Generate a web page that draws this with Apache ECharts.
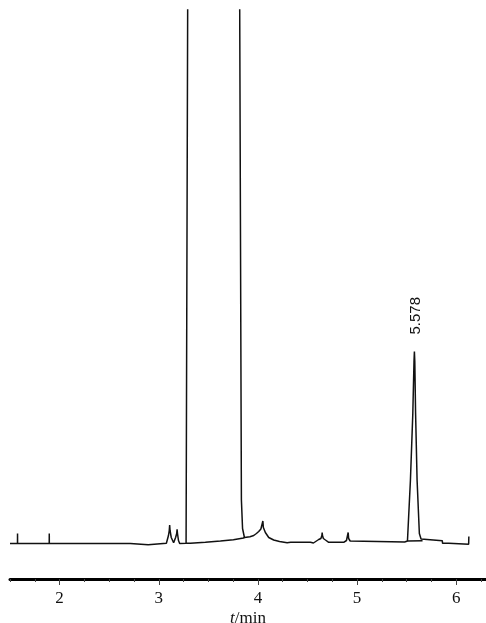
<!DOCTYPE html>
<html><head><meta charset="utf-8">
<script src="https://cdn.jsdelivr.net/npm/echarts@6/dist/echarts.min.js"></script>
<style>html,body{margin:0;padding:0;background:#fff}#c{width:486px;height:623px}</style>
</head><body><div id="c"></div>
<script>
// Chromatogram trace (time in min, signal in arbitrary units)
const mainTime = [1.50,1.5755,1.576,1.5765,1.8955,1.896,1.8965,2.713,2.716,2.893,2.896,
  3.077,3.098,3.106,3.110,3.114,3.126,3.150,3.170,3.181,3.185,3.189,3.199,3.211,
  3.2755,3.2916,3.30,3.80,3.8164,3.8335,3.845,3.864,
  3.92,3.958,3.985,4.008,4.030,4.045,4.050,4.055,4.075,4.109,4.159,4.218,4.295,4.33,
  4.53,4.537,4.56,4.58,4.613,4.635,4.645,4.648,4.651,4.66,4.681,4.714,
  4.865,4.893,4.905,4.910,4.915,4.93,4.945,
  5.48,5.508,5.538,5.562,5.574,5.578,5.582,5.59,5.605,5.628,5.645,5.66,
  5.859,5.862,5.925,5.93,6.125,6.127];
const mainSignal = [0,0,10,0,0,10,0,0,-1.2,-1.2,0,
  0.3,8,13,18.5,13,6,0.8,6,10,14.2,10,3,0,
  0.3,533.5,1500,1500,533.5,43.5,15,6,
  6.8,8,10,12,14.5,16,22.5,16,11,6,3.5,2,0.8,1.2,
  1.2,-0.5,0.5,1.8,4,5,8,11,8,5,3.5,1.2,
  1.2,3,5,11,5,2.5,1.2,
  1.5,2.5,63.5,130,182,192,182,130,63.5,10,4.5,2.8,
  2.8,0.2,0.2,-0.8,-0.8,7];
// Drop baselines drawn under the solvent peak and the 5.578 peak
const base1Time = [3.2755,3.319,3.325,3.470,3.476,3.622,3.628,3.753,3.76,3.854,3.864];
const base1Signal = [0.3,0.3,1.2,1.2,2.5,2.5,3.8,3.8,5,5.5,6];
const base2Time = [5.508,5.66];
const base2Signal = [2.5,2.8];
// Axis
const majorTicks = [2,3,4,5,6];
const peakLabelTime = 5.578;
const peakLabelSignal = 192;
const peakLabelText = '5.578';

const font = '"Liberation Serif","Times New Roman",serif';
const sans = '"Liberation Sans",Arial,sans-serif';
const zip = (a,b)=>a.map((t,i)=>[t,b[i]]);
const lineStyle = {color:'#111', width:1.5};
const chart = echarts.init(document.getElementById('c'), null, {renderer:'canvas'});
chart.setOption({
  animation:false,
  backgroundColor:'#fff',
  grid:{left:10, right:0, top:10, bottom:44, outerBoundsMode:'none', containLabel:false},
  xAxis:[{
    type:'value', min:1.5, max:6.3, interval:0.25,
    axisLine:{show:true, onZero:false, lineStyle:{color:'#000', width:3}},
    axisTick:{show:true, length:3, lineStyle:{color:'#444', width:1}},
    axisLabel:{show:false}, splitLine:{show:false}
  },{
    type:'value', min:1.5, max:6.3, position:'bottom',
    axisLine:{show:false, onZero:false},
    axisTick:{show:true, length:6, customValues:majorTicks, lineStyle:{color:'#444', width:1}},
    axisLabel:{show:true, customValues:majorTicks, margin:11, fontSize:17, color:'#111', fontFamily:font},
    splitLine:{show:false},
    name:'{i|t}/min', nameLocation:'middle', nameGap:31, nameMoveOverlap:false,
    nameTextStyle:{fontSize:17, color:'#111', fontFamily:font,
      rich:{i:{fontStyle:'italic', fontSize:17, color:'#111', fontFamily:font}}}
  }],
  yAxis:{type:'value', min:-35.5, max:533.5, show:false},
  series:[
    {type:'line', xAxisIndex:0, data:zip(mainTime, mainSignal), showSymbol:false, symbol:'none', clip:true, lineStyle,
     markPoint:{symbol:'circle', symbolSize:0, silent:true, animation:false,
       data:[{coord:[peakLabelTime, peakLabelSignal], value:peakLabelText,
         label:{show:true, formatter:peakLabelText, rotate:90, position:'top', offset:[12,1],
           align:'left', verticalAlign:'middle', color:'#111', fontSize:15, fontFamily:sans}}]}},
    {type:'line', xAxisIndex:0, data:zip(base1Time, base1Signal), symbol:'none', clip:true, lineStyle},
    {type:'line', xAxisIndex:0, data:zip(base2Time, base2Signal), symbol:'none', clip:true, lineStyle}
  ]
});
</script>
</body></html>
